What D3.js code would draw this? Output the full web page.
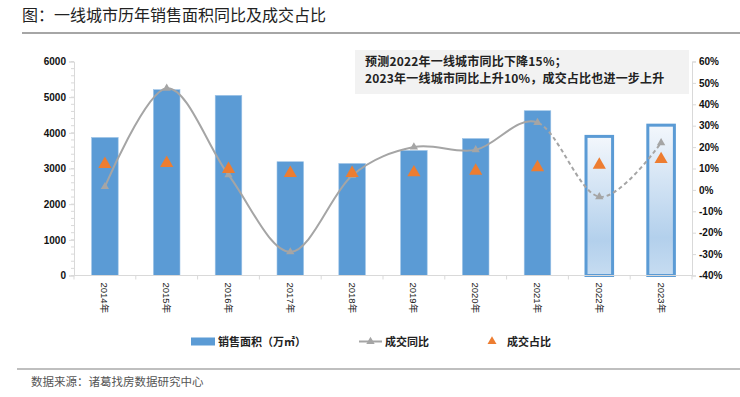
<!DOCTYPE html>
<html>
<head>
<meta charset="utf-8">
<script src="https://cdn.jsdelivr.net/npm/d3@7"></script>
<style>
  body { margin: 0; background: #fff; }
  text { font-family: "Liberation Sans", Arial, "Noto Sans CJK SC", sans-serif; }
  .cjk { font-family: "Noto Sans CJK SC", sans-serif; }
</style>
</head>
<body>
<div id="root"></div>
<script>
const years = ["2014年", "2015年", "2016年", "2017年", "2018年", "2019年", "2020年", "2021年", "2022年", "2023年"];
const area = [3870, 5210, 5050, 3190, 3140, 3505, 3840, 4620, 3900, 4215];
const yoy = [1.5, 47.5, 7, -29, 6.7, 20, 18.7, 31.5, -3.2, 22];
const share = [12, 12.5, 9.7, 7.8, 7.8, 8.1, 8.9, 10.5, 11.7, 14.3];
const forecastYears = ["2022年", "2023年"];
const leftTicks = [0, 1000, 2000, 3000, 4000, 5000, 6000];
const rightTicks = [-40, -30, -20, -10, 0, 10, 20, 30, 40, 50, 60];
const titleText = "图：一线城市历年销售面积同比及成交占比";
const noteLines = ["预测2022年一线城市同比下降15%；", "2023年一线城市同比上升10%，成交占比也进一步上升"];
const legendNames = ["销售面积（万㎡）", "成交同比", "成交占比"];
const sourceText = "数据来源：诸葛找房数据研究中心";

const w = 740;
const h = 397;
const plotLeft = 74, plotRight = 692, plotTop = 61.5, plotBottom = 275.5;

const svg = d3.select("#root")
  .append("svg")
  .attr("width", w)
  .attr("height", h);

// title and rules
svg.append("text")
  .attr("class", "cjk")
  .attr("x", 22)
  .attr("y", 21)
  .attr("font-size", 16)
  .attr("fill", "#222")
  .text(titleText);

svg.append("line")
  .attr("x1", 22).attr("x2", w)
  .attr("y1", 33).attr("y2", 33)
  .attr("stroke", "#a6a6a6")
  .attr("stroke-width", 2);

svg.append("line")
  .attr("x1", 17).attr("x2", w)
  .attr("y1", 369).attr("y2", 369)
  .attr("stroke", "#808080")
  .attr("stroke-width", 1.2);

svg.append("text")
  .attr("class", "cjk")
  .attr("x", 31)
  .attr("y", 386)
  .attr("font-size", 11.5)
  .attr("fill", "#555")
  .text(sourceText);

// scales
const x = d3.scaleBand()
  .domain(years)
  .range([plotLeft, plotRight])
  .paddingInner(0.57)
  .paddingOuter(0.285);

const yL = d3.scaleLinear().domain([0, 6000]).range([plotBottom, plotTop]);
const yR = d3.scaleLinear().domain([-40, 60]).range([plotBottom, plotTop]);

// annotation box
svg.append("rect")
  .attr("x", 355).attr("y", 50)
  .attr("width", 334).attr("height", 44)
  .attr("fill", "#f2f2f2");

svg.selectAll(".note")
  .data(noteLines)
  .enter()
  .append("text")
  .attr("class", "note cjk")
  .attr("x", 365)
  .attr("y", (d, i) => 65.5 + 17.5 * i)
  .attr("font-size", 12)
  .attr("letter-spacing", 0.2)
  .attr("font-weight", "bold")
  .attr("fill", "#222")
  .text(d => d);

// gradient for forecast bars
const defs = svg.append("defs");
const grad = defs.append("linearGradient")
  .attr("id", "fc")
  .attr("x1", 0).attr("y1", 0).attr("x2", 0).attr("y2", 1);
grad.append("stop").attr("offset", "0%").attr("stop-color", "#f3f7fc");
grad.append("stop").attr("offset", "75%").attr("stop-color", "#b3d0ec");
grad.append("stop").attr("offset", "100%").attr("stop-color", "#c6dcf1");

// bars
svg.selectAll(".bar")
  .data(years)
  .enter()
  .append("rect")
  .attr("class", "bar")
  .attr("x", d => x(d))
  .attr("width", x.bandwidth())
  .attr("y", (d, i) => yL(area[i]))
  .attr("height", (d, i) => plotBottom - yL(area[i]))
  .attr("fill", d => forecastYears.includes(d) ? "url(#fc)" : "#5b9bd5")
  .attr("stroke", d => forecastYears.includes(d) ? "#5b9bd5" : "#9dc3e6")
  .attr("stroke-width", d => forecastYears.includes(d) ? 3 : 0.6);

// axes
const xAxisG = svg.append("g")
  .attr("id", "x-axis")
  .attr("transform", `translate(0, ${plotBottom})`);
xAxisG.append("line")
  .attr("x1", plotLeft).attr("x2", plotRight)
  .attr("stroke", "#d9d9d9");
xAxisG.selectAll(".xtick")
  .data(years.concat(["end"]))
  .enter()
  .append("line")
  .attr("class", "xtick")
  .attr("x1", (d, i) => plotLeft + i * x.step())
  .attr("x2", (d, i) => plotLeft + i * x.step())
  .attr("y1", 0).attr("y2", 4)
  .attr("stroke", "#d9d9d9");
xAxisG.selectAll(".xlabel")
  .data(years)
  .enter()
  .append("text")
  .attr("class", "xlabel")
  .attr("transform", d => `translate(${x(d) + x.bandwidth() / 2 - 3.5}, 7) rotate(90)`)
  .attr("font-size", 9.5)
  .attr("fill", "#222")
  .text(d => d);

const yAxisL = d3.axisLeft(yL)
  .tickValues(leftTicks)
  .tickSize(5)
  .tickPadding(3)
  .tickFormat(d3.format("d"));
const gL = svg.append("g")
  .attr("id", "y-axis")
  .attr("transform", `translate(${plotLeft}, 0)`)
  .call(yAxisL);
gL.selectAll(".minor")
  .data(d3.range(0, 6001, 200))
  .enter()
  .append("line")
  .attr("class", "minor")
  .attr("x1", -3).attr("x2", 0)
  .attr("y1", d => yL(d)).attr("y2", d => yL(d))
  .attr("stroke", "#d9d9d9");

const yAxisR = d3.axisRight(yR)
  .tickValues(rightTicks)
  .tickSize(4)
  .tickPadding(3)
  .tickFormat(d => d + "%");
const gR = svg.append("g")
  .attr("id", "y-axis-right")
  .attr("transform", `translate(${plotRight}, 0)`)
  .call(yAxisR);

[gL, gR].forEach(g => {
  g.select(".domain").attr("stroke", "#d9d9d9");
  g.selectAll(".tick line").attr("stroke", "#d9d9d9");
  g.selectAll(".tick text")
    .attr("font-family", "'Liberation Sans', Arial, sans-serif")
    .attr("font-size", 10)
    .attr("font-weight", "bold")
    .attr("fill", "#111");
});

// yoy line, smoothed; solid up to 2021, dashed after
const lineData = years.map((d, i) => [x(d) + x.bandwidth() / 2, yR(yoy[i])]);
const lineGen = d3.line().curve(d3.curveCatmullRom.alpha(0));
const splitX = x("2021年") + x.bandwidth() / 2;

defs.append("clipPath").attr("id", "clipSolid")
  .append("rect").attr("x", 0).attr("y", 0).attr("width", splitX).attr("height", h);
defs.append("clipPath").attr("id", "clipDash")
  .append("rect").attr("x", splitX).attr("y", 0).attr("width", w - splitX).attr("height", h);

svg.append("path")
  .attr("d", lineGen(lineData))
  .attr("fill", "none")
  .attr("stroke", "#a5a5a5")
  .attr("stroke-width", 2)
  .attr("clip-path", "url(#clipSolid)");

svg.append("path")
  .attr("d", lineGen(lineData))
  .attr("fill", "none")
  .attr("stroke", "#a5a5a5")
  .attr("stroke-width", 2)
  .attr("stroke-dasharray", "4,3")
  .attr("clip-path", "url(#clipDash)");

const triSmall = d3.symbol().type(d3.symbolTriangle).size(30);
const triBig = d3.symbol().type(d3.symbolTriangle).size(75);

svg.selectAll(".yoy")
  .data(years)
  .enter()
  .append("path")
  .attr("class", "yoy")
  .attr("d", triSmall)
  .attr("transform", (d, i) => `translate(${x(d) + x.bandwidth() / 2}, ${yR(yoy[i])})`)
  .attr("fill", "#a5a5a5");

svg.selectAll(".share")
  .data(years)
  .enter()
  .append("path")
  .attr("class", "share")
  .attr("d", triBig)
  .attr("transform", (d, i) => `translate(${x(d) + x.bandwidth() / 2}, ${yR(share[i])})`)
  .attr("fill", "#ed7d31");

// legend
const lg = svg.append("g").attr("id", "legend");
const ly = 341.5;
lg.append("rect")
  .attr("x", 191).attr("y", ly - 4)
  .attr("width", 24).attr("height", 8)
  .attr("fill", "#5b9bd5");
lg.append("line")
  .attr("x1", 359).attr("x2", 382)
  .attr("y1", ly).attr("y2", ly)
  .attr("stroke", "#a5a5a5").attr("stroke-width", 2);
lg.append("path")
  .attr("d", triSmall)
  .attr("transform", `translate(370.5, ${ly})`)
  .attr("fill", "#a5a5a5");
lg.append("path")
  .attr("d", d3.symbol().type(d3.symbolTriangle).size(35))
  .attr("transform", `translate(492, ${ly})`)
  .attr("fill", "#ed7d31");

lg.selectAll("text")
  .data(legendNames)
  .enter()
  .append("text")
  .attr("class", "cjk")
  .attr("x", (d, i) => [218, 385, 507][i])
  .attr("y", ly + 4)
  .attr("font-size", 11)
  .attr("font-weight", "bold")
  .attr("fill", "#222")
  .text(d => d);
</script>
</body>
</html>
